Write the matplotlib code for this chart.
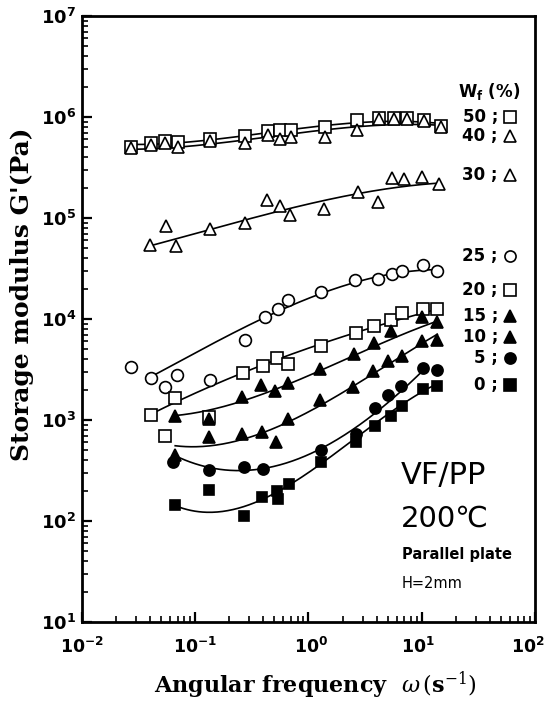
import numpy as np
import matplotlib
matplotlib.use("Agg")
from matplotlib import pyplot as plt
from matplotlib.ticker import FixedLocator, LogLocator, NullFormatter
from matplotlib.transforms import offset_copy

# measured points: angular frequency w (1/s), storage modulus g (Pa)
w50 = [0.027, 0.041, 0.054, 0.071, 0.136, 0.277, 0.438, 0.555, 0.706, 1.40, 2.67, 4.17, 5.67, 7.46, 10.5, 14.8]
g50 = [5.1e5, 5.5e5, 5.75e5, 5.6e5, 6.1e5, 6.45e5, 7.2e5, 7.35e5, 7.4e5, 8.0e5, 9.3e5, 9.7e5, 9.85e5, 9.7e5, 9.3e5, 8.1e5]
w40 = [0.027, 0.041, 0.054, 0.071, 0.136, 0.277, 0.438, 0.555, 0.706, 1.40, 2.67, 4.17, 5.67, 7.46, 10.5, 14.8]
g40 = [4.9e5, 5.3e5, 5.5e5, 5.1e5, 5.8e5, 5.5e5, 6.6e5, 6.0e5, 6.4e5, 6.4e5, 7.5e5, 9.5e5, 9.5e5, 9.5e5, 9.2e5, 7.9e5]
w30 = [0.040, 0.0553, 0.068, 0.136, 0.277, 0.43, 0.555, 0.68, 1.38, 2.72, 4.08, 5.48, 6.97, 10.1, 14.3]
g30 = [5.4e4, 8.3e4, 5.3e4, 7.8e4, 8.9e4, 1.5e5, 1.32e5, 1.06e5, 1.24e5, 1.82e5, 1.45e5, 2.47e5, 2.44e5, 2.57e5, 2.15e5]
w25 = [0.0269, 0.0405, 0.0538, 0.069, 0.1355, 0.275, 0.413, 0.541, 0.655, 1.30, 2.58, 4.10, 5.44, 6.73, 10.3, 13.7]
g25 = [3350, 2600, 2140, 2820, 2470, 6220, 10500, 12600, 15400, 18500, 24400, 25100, 27800, 29900, 34100, 30200]
w20 = [0.0405, 0.0538, 0.0666, 0.133, 0.266, 0.399, 0.523, 0.655, 1.30, 2.64, 3.81, 5.32, 6.73, 10.3, 13.7]
g20 = [1130, 698, 1640, 1070, 2900, 3450, 4150, 3560, 5460, 7260, 8460, 9850, 11500, 12600, 12600]
w15 = [0.0666, 0.133, 0.257, 0.379, 0.511, 0.655, 1.27, 2.52, 3.81, 5.32, 10.1, 13.7]
g15 = [1090, 1020, 1690, 2230, 1930, 2300, 3210, 4540, 5740, 7630, 10400, 9260]
w10 = [0.0666, 0.133, 0.257, 0.387, 0.515, 0.655, 1.27, 2.49, 3.68, 5.07, 6.73, 10.1, 13.7]
g10 = [451, 678, 728, 766, 612, 1020, 1560, 2140, 3050, 3820, 4310, 6040, 6220]
w5 = [0.0643, 0.133, 0.270, 0.393, 1.30, 2.64, 3.90, 5.07, 6.50, 10.3, 13.7]
g5 = [387, 322, 339, 326, 499, 728, 1310, 1750, 2180, 3280, 3120]
w0 = [0.0666, 0.133, 0.27, 0.387, 0.523, 0.541, 0.67, 1.30, 2.64, 3.90, 5.32, 6.73, 10.3, 13.7]
g0 = [143, 204, 111, 171, 200, 166, 233, 387, 612, 874, 1090, 1380, 2010, 2180]

# hand drawn guide curves
cw50 = [0.0274, 0.136, 0.438, 1.40, 4.17, 10.5, 14.8]
cg50 = [5.33e5, 5.98e5, 7.08e5, 7.94e5, 9.12e5, 9.26e5, 8.32e5]
cw40 = [0.0274, 0.136, 0.438, 1.40, 4.17, 10.5, 14.8]
cg40 = [4.75e5, 5.54e5, 6.31e5, 7.13e5, 8.45e5, 8.98e5, 7.82e5]
cw30 = [0.0432, 0.136, 0.273, 0.68, 1.40, 2.72, 6.0, 14.3]
cg30 = [5.4e4, 7.8e4, 9.5e4, 1.24e5, 1.47e5, 1.75e5, 2.04e5, 2.2e5]
cw25 = [0.0405, 0.1355, 0.413, 1.30, 2.58, 13.7]
cg25 = [2680, 5460, 10600, 17600, 23200, 30800]
cw20 = [0.0405, 0.1355, 0.275, 0.561, 1.30, 2.64, 5.44, 13.7]
cg20 = [1130, 2180, 3020, 4020, 5570, 7260, 9850, 12300]
cw15 = [0.0666, 0.1355, 0.275, 0.561, 1.30, 2.64, 5.44, 13.7]
cg15 = [1130, 1190, 1610, 2180, 3020, 4460, 6350, 9550]
cw10 = [0.0666, 0.1355, 0.275, 0.561, 1.30, 2.64, 5.44, 13.7]
cg10 = [553, 564, 644, 874, 1450, 2180, 3820, 7030]
cw5 = [0.0666, 0.1355, 0.275, 0.561, 1.30, 2.64, 5.44, 10.3]
cg5 = [451, 322, 322, 368, 525, 830, 1610, 3120]
cw0 = [0.0666, 0.1355, 0.275, 0.561, 1.30, 2.64, 5.44, 13.7]
cg0 = [140, 126, 140, 190, 387, 678, 1190, 2300]

labels = ["50", "40", "30", "25", "20", "15", "10", "5", "0"]
markers = ["s", "^", "^", "o", "s", "^", "^", "o", "s"]
filled = [False, False, False, False, False, True, True, True, True]
points = [(w50, g50), (w40, g40), (w30, g30), (w25, g25), (w20, g20),
          (w15, g15), (w10, g10), (w5, g5), (w0, g0)]
curves = [(cw50, cg50), (cw40, cg40), (cw30, cg30), (cw25, cg25), (cw20, cg20),
          (cw15, cg15), (cw10, cg10), (cw5, cg5), (cw0, cg0)]
key_y = [0.833, 0.802, 0.738, 0.604, 0.548, 0.505, 0.470, 0.436, 0.391]

xexp = [-2, -1, 0, 1, 2]
yexp = [1, 2, 3, 4, 5, 6, 7]

fig = plt.figure(figsize=(5.46, 7.01), dpi=100)
ax = fig.add_axes([0.150, 0.1127, 0.830, 0.8645])
ax.set_xscale("log")
ax.set_yscale("log")
ax.set_xlim(1e-2, 1e2)
ax.set_ylim(1e1, 1e7)

for (cw, cg) in curves:
    lx = np.log10(cw)
    ly = np.log10(cg)
    coef = np.polyfit(lx, ly, 3)
    xs = np.linspace(lx[0], lx[-1], 200)
    ax.plot(10 ** xs, 10 ** np.polyval(coef, xs), color="black", lw=1.2, zorder=2)

for (w, g), m, f in zip(points, markers, filled):
    ms = 8 if f else 8.5
    if m == "s":
        ms -= 0.5
    ax.plot(w, g, linestyle="none", marker=m, ms=ms, mew=1.2,
            mec="black", mfc="black" if f else "white", zorder=3)

# key on the right
ax.text(0.967, 0.875, r"$\mathbf{W_f}$ (%)", transform=ax.transAxes, ha="right",
        va="center", fontsize=12, fontweight="bold", math_fontfamily="dejavusans")
for lab, m, f, yy in zip(labels, markers, filled, key_y):
    ax.text(0.918, yy, lab + " ;", transform=ax.transAxes, ha="right", va="center",
            fontsize=12, fontweight="bold")
    ax.plot([0.945], [yy], transform=ax.transAxes, marker=m, ms=8, mew=1.2,
            mec="black", mfc="black" if f else "white", clip_on=False, linestyle="none")

ax.text(0.704, 0.241, "VF/PP", transform=ax.transAxes, ha="left", va="center", fontsize=22)
ax.text(0.704, 0.170, "200\u2103", transform=ax.transAxes, ha="left", va="center",
        fontsize=21, family=["DejaVu Sans", "Noto Sans CJK JP"])
ax.text(0.706, 0.112, "Parallel plate", transform=ax.transAxes, ha="left", va="center",
        fontsize=10.5, fontweight="bold")
ax.text(0.706, 0.064, "H=2mm", transform=ax.transAxes, ha="left", va="center",
        fontsize=10.5)

# ticks
ax.xaxis.set_major_locator(FixedLocator([10.0 ** e for e in xexp]))
ax.yaxis.set_major_locator(FixedLocator([10.0 ** e for e in yexp]))
ax.set_yticklabels([r"$\mathbf{10^{%d}}$" % e for e in yexp])
ax.set_xticklabels([])
ax.xaxis.set_minor_locator(LogLocator(base=10, subs=np.arange(2, 10), numticks=20))
ax.yaxis.set_minor_locator(LogLocator(base=10, subs=np.arange(2, 10), numticks=20))
ax.xaxis.set_minor_formatter(NullFormatter())
ax.yaxis.set_minor_formatter(NullFormatter())
ax.tick_params(which="both", direction="in", top=False, right=False, labelsize=13)
ax.tick_params(which="major", length=7, width=1.6)
ax.tick_params(which="minor", length=4, width=1.2)
for lab in ax.get_yticklabels():
    lab.set_math_fontfamily("dejavusans")
ax.tick_params(axis="y", pad=4)

# x tick labels, the last one pulled in from the edge
xshift = [0, 0, 3, -4, -7]
for e, dx in zip(xexp, xshift):
    tr = offset_copy(ax.get_xaxis_transform(), fig=fig, x=dx, y=-25, units="dots")
    ax.text(10.0 ** e, 0, r"$\mathbf{10^{%d}}$" % e, transform=tr, ha="center",
            va="center", fontsize=12.5, math_fontfamily="dejavusans", clip_on=False)

for s in ax.spines.values():
    s.set_linewidth(2)

ax.set_xlabel(r"Angular frequency  $\omega\,(\mathbf{s}^{-1})$", fontsize=16,
              fontweight="bold", family="DejaVu Serif", math_fontfamily="dejavuserif",
              va="center")
ax.xaxis.set_label_coords(0.515, -0.104)
ax.set_ylabel("Storage modulus G'(Pa)", fontsize=18, fontweight="bold",
              family="DejaVu Serif", va="center")
ax.yaxis.set_label_coords(-0.132, 0.54)

fig.savefig("out.png", dpi=100)
